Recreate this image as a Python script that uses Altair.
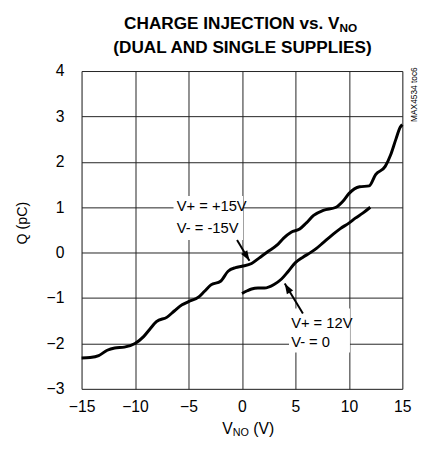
import altair as alt
import pandas as pd

# Dual supplies (V+ = +15V, V- = -15V)
dual_v = [-15, -14.2, -13.4, -12.6, -11.9, -11.0, -10, -9.2, -8.6, -8.0, -7.0, -6.3, -5.6, -5.0,
          -4.0, -3.5, -2.9, -2.0, -1.3, -0.6, 0, 0.9, 1.6, 2.4, 3.3, 3.9, 4.6, 5.4, 6.0, 6.7,
          7.6, 8.8, 9.4, 10.0, 11.0, 11.9, 12.5, 13.4, 13.9, 14.4, 14.8, 15]
dual_q = [-2.32, -2.31, -2.27, -2.15, -2.1, -2.08, -2.0, -1.85, -1.68, -1.52, -1.42, -1.28, -1.15, -1.08,
          -0.97, -0.85, -0.71, -0.63, -0.41, -0.33, -0.3, -0.24, -0.12, 0.02, 0.17, 0.32, 0.45, 0.52, 0.65, 0.82,
          0.93, 1.0, 1.12, 1.3, 1.45, 1.47, 1.72, 1.9, 2.15, 2.5, 2.76, 2.82]

# Single supply (V+ = 12V, V- = 0)
single_v = [0, 0.5, 0.9, 1.5, 2.1, 3.0, 3.7, 4.3, 5.0, 5.7, 6.4, 7.0, 7.6, 8.4, 9.2, 10.0, 10.6, 11.3, 12]
single_q = [-0.9, -0.84, -0.8, -0.78, -0.78, -0.7, -0.58, -0.42, -0.22, -0.1, 0.0, 0.1, 0.22, 0.38, 0.53,
            0.65, 0.76, 0.87, 1.0]

x_ticks = [-15, -10, -5, 0, 5, 10, 15]
y_ticks = [-3, -2, -1, 0, 1, 2, 3, 4]

FONT = "Liberation Sans Narrow, Liberation Sans"

df = pd.concat([
    pd.DataFrame({"v": dual_v, "q": dual_q, "s": "dual"}),
    pd.DataFrame({"v": single_v, "q": single_q, "s": "single"}),
])

xs = alt.Scale(domain=[-15, 15], nice=False)
ys = alt.Scale(domain=[-3, 4], nice=False)

base = alt.Chart(df)

lines = base.mark_line(color="black", strokeWidth=3, interpolate="monotone").encode(
    x=alt.X("v:Q", scale=xs,
            axis=alt.Axis(values=x_ticks, title=None, grid=True, gridColor="#222", gridWidth=1,
                          domain=False, ticks=False, tickSize=0, labelPadding=10, labelFlush=False,
                          labelFontSize=16, labelFont=FONT, labelColor="black")),
    y=alt.Y("q:Q", scale=ys,
            axis=alt.Axis(values=y_ticks, title=None, grid=True, gridColor="#222", gridWidth=1,
                          domain=False, ticks=False, tickSize=0, labelPadding=18,
                          labelFontSize=16, labelFont=FONT, labelColor="black")),
    detail="s:N",
)

# label boxes hiding grid
boxes = pd.DataFrame({"x1": [-6.4, 4.4], "x2": [0.1, 10.1], "y1": [1.25, -1.23], "y2": [0.28, -2.2]})
box = alt.Chart(boxes).mark_rect(color="white").encode(
    x=alt.X("x1:Q", scale=xs), x2="x2:Q", y=alt.Y("y1:Q", scale=ys), y2="y2:Q")

labels = pd.DataFrame({
    "x": [-6.1, -6.1, 4.6, 4.6],
    "y": [1.03, 0.55, -1.55, -1.98],
    "t": ["V+ = +15V", "V- = -15V", "V+ = 12V", "V- = 0"],
})
lab = alt.Chart(labels).mark_text(align="left", baseline="middle", fontSize=15, font=FONT,
                                  color="black").encode(
    x=alt.X("x:Q", scale=xs), y=alt.Y("y:Q", scale=ys), text="t:N")

arrows = pd.DataFrame({"x": [-0.46, 5.7], "y": [0.28, -1.34], "x2": [0.7, 4.0], "y2": [-0.18, -0.68],
                       "ang": [149, 329]})
arr_line = alt.Chart(arrows).mark_rule(color="black", strokeWidth=2).encode(
    x=alt.X("x:Q", scale=xs), y=alt.Y("y:Q", scale=ys), x2="x2:Q", y2="y2:Q")
arr_head = alt.Chart(arrows).mark_point(
    shape="M0,0 L-0.6,1.7 L0.6,1.7 Z", filled=True, color="black", size=150, opacity=1).encode(
    x=alt.X("x2:Q", scale=xs), y=alt.Y("y2:Q", scale=ys), angle=alt.Angle("ang:Q", scale=None))

def txt(text, x, y, size, align="left", bold=False, angle=0, baseline="alphabetic"):
    kw = dict(align=align, baseline=baseline, fontSize=size, font=FONT, color="black",
              fontWeight="bold" if bold else "normal")
    if angle:
        kw["angle"] = angle
    return alt.Chart(pd.DataFrame({"t": [text]})).mark_text(**kw).encode(
        x=alt.value(x), y=alt.value(y), text="t:N")

titles = [
    txt("CHARGE INJECTION vs. V", 263, -43, 17.5, align="right", bold=True),
    txt("NO", 263, -40, 12, align="left", bold=True),
    txt("(DUAL AND SINGLE SUPPLIES)", 164, -18, 17.5, align="center", bold=True),
    txt("V", 154, 370, 16, align="right"),
    txt("NO", 154, 372, 11, align="left"),
    txt("(V)", 175, 370, 16, align="left"),
    txt("Q (pC)", -60, 155, 14.5, align="center", angle=270, baseline="middle"),
    txt("MAX4534 toc6", 339, 24, 8.5, align="center", angle=270, baseline="middle"),
]

chart = alt.layer(box, lines, lab, arr_line, arr_head, *titles).properties(
    width=327, height=324, autosize="none",
    padding={"left": 75, "top": 60, "right": 18, "bottom": 54},
).configure_view(stroke="black", strokeWidth=3).configure(background="white")

chart.save("out.html", embed_options={"renderer": "svg", "actions": False})
